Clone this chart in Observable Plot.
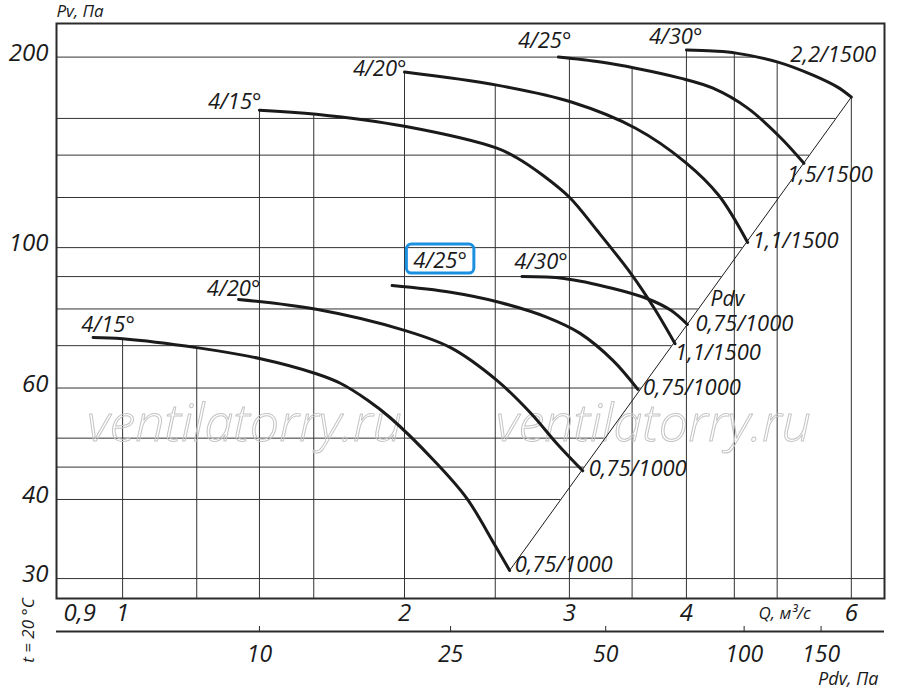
<!DOCTYPE html>
<html>
<head>
<meta charset="utf-8">
<script src="https://cdn.jsdelivr.net/npm/d3@7"></script>
<script src="https://cdn.jsdelivr.net/npm/@observablehq/plot@0.6"></script>
<style>
  body { margin: 0; background: #fff; }
  #chart svg { display: block; }
</style>
</head>
<body>
<div id="chart"></div>
<script>
// blade angle / motor labels
const angles = ["4/15°", "4/20°", "4/25°", "4/30°"];
const lowerEnds = ["0,75/1000", "0,75/1000", "0,75/1000", "0,75/1000"];
const upperEnds = ["1,1/1500", "1,1/1500", "1,5/1500", "2,2/1500"];

// curves: [Q, m3/s ; Pv, Pa]
const lower15 = [[0.93, 72.1], [1.0, 71.8], [1.2, 69.5], [1.4, 66.8], [1.61, 63.2], [1.71, 61.0], [1.83, 57.3], [1.93, 53.9], [2.15, 46.1], [2.33, 40.2], [2.5, 33.8], [2.59, 30.9]];
const lower20 = [[1.33, 82.8], [1.61, 79.9], [2.0, 74.0], [2.24, 69.5], [2.51, 61.7], [2.73, 54.7], [2.91, 49.0], [3.10, 44.4]];
const lower25 = [[1.94, 87.1], [2.24, 85.0], [2.53, 81.9], [2.84, 77.6], [3.08, 73.2], [3.34, 66.3], [3.55, 59.7]];
const lower30 = [[2.67, 90.0], [2.96, 89.4], [3.34, 86.2], [3.63, 83.1], [3.85, 79.6], [4.01, 75.6]];
const upper15 = [[1.4, 164.9], [1.61, 162.5], [2.0, 155.5], [2.51, 143.6], [2.63, 138.9], [2.81, 130.1], [3.0, 120.1], [3.21, 106.5], [3.49, 91.0], [3.69, 80.5], [3.89, 70.5]];
const upper20 = [[2.0, 189.4], [2.51, 180.6], [3.02, 169.7], [3.53, 154.4], [3.99, 136.4], [4.33, 121.0], [4.65, 101.9]];
const upper25 = [[2.92, 200], [3.24, 196.4], [3.53, 192.1], [3.94, 185.3], [4.27, 178.6], [4.65, 166.1], [5.04, 149.3], [5.34, 135.9]];
const upper30 = [[4.0, 205.2], [4.27, 204.4], [4.52, 202.9], [5.01, 196.4], [5.46, 187.3], [5.80, 179.3], [6.0, 172.9]];
const pdvLine = [[2.59, 30.9], [6.0, 172.9]];

// grid and ticks
const gridQ = [1, 1.2, 1.4, 1.6, 2, 2.5, 3, 3.5, 4, 4.5, 5, 6];
const gridP = [30, 40, 45, 50, 60, 70, 80, 90, 100, 120, 140, 160, 200];
const tickQ = [0.9, 1, 2, 3, 4, 6];
const tickP = [30, 40, 60, 100, 200];
const pdvTicks = [10, 25, 50, 100, 150];
const pdvTickQ = [1.40, 2.24, 3.28, 4.61, 5.57];

const xDomain = [0.85, 6.51];
const yDomain = [27.9, 226];

const lower = [lower15, lower20, lower25, lower30];
const upper = [upper15, upper20, upper25, upper30];

const rows = [];
lower.forEach((pts, i) => pts.forEach(([q, p]) => rows.push({q, p, id: "l" + i})));
upper.forEach((pts, i) => pts.forEach(([q, p]) => rows.push({q, p, id: "u" + i})));

// log-log interpolation along a polyline
function pAt(pts, q) {
  for (let i = 1; i < pts.length; i++) {
    const [q0, p0] = pts[i - 1], [q1, p1] = pts[i];
    if (q >= q0 && q <= q1) {
      const t = Math.log(q / q0) / Math.log(q1 / q0);
      return Math.exp(Math.log(p0) + t * Math.log(p1 / p0));
    }
  }
  return null;
}
function qAt(pts, p) {
  for (let i = pts.length - 1; i > 0; i--) {
    const [q0, p0] = pts[i - 1], [q1, p1] = pts[i];
    if ((p - p0) * (p - p1) <= 0) {
      const t = Math.log(p / p0) / Math.log(p1 / p0);
      return Math.exp(Math.log(q0) + t * Math.log(q1 / q0));
    }
  }
  return null;
}
// vertical grid stops at the top curve, horizontal grid at the Pdv line
const topAt = q => d3.max([...lower, ...upper], pts => pAt(pts, q)) ?? yDomain[1];
function rightAt(p) {
  if (p < pdvLine[0][1]) return xDomain[1];
  if (p <= pdvLine[1][1]) return qAt(pdvLine, p);
  return qAt(upper30, p) ?? xDomain[1];
}

const pdvLabel = new Map(pdvTickQ.map((q, i) => [q, pdvTicks[i]]));
const it = {fontStyle: "italic", fill: "#1a1a1a"};
const mid = {textAnchor: "middle", lineAnchor: "middle"};

// label offsets (px) relative to curve start / end
const upperStartOff = [[2, -8], [2, -3], [13, -16], [16, -13]];
const lowerStartOff = [[15, -13], [-5, -11], [48, -25], [19, -15]];
const lowerEndOff = [[5, -5], [6, -2], [5, -1], [8, -1]];
const upperEndOff = [[0, 9], [5, -1], [-17, 12], [-61, -42]];

const labelMarks = [];
angles.forEach((a, i) => {
  labelMarks.push(Plot.text([upper[i][0]], {x: d => d[0], y: d => d[1], text: () => a, textAnchor: "end",
    dx: upperStartOff[i][0], dy: upperStartOff[i][1], fontSize: 22, ...it}));
  labelMarks.push(Plot.text([lower[i][0]], {x: d => d[0], y: d => d[1], text: () => a, textAnchor: "middle",
    dx: lowerStartOff[i][0], dy: lowerStartOff[i][1], fontSize: 22, ...it,
    ariaDescription: i === 2 ? "highlight" : "angle"}));
  labelMarks.push(Plot.text([lower[i][lower[i].length - 1]], {x: d => d[0], y: d => d[1], text: () => lowerEnds[i], textAnchor: "start",
    dx: lowerEndOff[i][0], dy: lowerEndOff[i][1], fontSize: 22, ...it}));
  labelMarks.push(Plot.text([upper[i][upper[i].length - 1]], {x: d => d[0], y: d => d[1], text: () => upperEnds[i], textAnchor: "start",
    dx: upperEndOff[i][0], dy: upperEndOff[i][1], fontSize: 22, ...it}));
});

const watermark = dx => Plot.text(["ventilatorry.ru"], {frameAnchor: "middle", ...mid, text: d => d, dx, dy: 113,
  fontSize: 52, fontStyle: "italic", fontWeight: 300, fill: "none", stroke: "#c4c4c4", strokeWidth: 1});

const chart = Plot.plot({
  width: 900,
  height: 690,
  marginLeft: 56,
  marginRight: 16,
  marginTop: 23,
  marginBottom: 92,
  style: {fontFamily: "'Open Sans', sans-serif", background: "#fff", color: "#1a1a1a"},
  x: {type: "log", domain: xDomain, label: null},
  y: {type: "log", domain: yDomain, label: null},
  marks: [
    Plot.ruleX(gridQ, {x: d => d, y1: () => yDomain[0], y2: topAt, stroke: "#333", strokeWidth: 1}),
    Plot.ruleY(gridP, {y: d => d, x1: () => xDomain[0], x2: rightAt, stroke: "#333", strokeWidth: 1}),
    watermark(-226),
    watermark(183),
    Plot.line(pdvLine, {x: d => d[0], y: d => d[1], stroke: "#1a1a1a", strokeWidth: 1}),
    Plot.line(rows, {x: "q", y: "p", z: "id", curve: "catmull-rom", stroke: "#1a1a1a", strokeWidth: 3}),
    ...labelMarks,
    Plot.text(["Pdv"], {x: () => lower30[lower30.length - 1][0], y: () => lower30[lower30.length - 1][1],
      text: d => d, dx: 40, dy: -25, fontSize: 21, ...it}),
    Plot.frame({stroke: "#2a2a2a", strokeWidth: 2}),
    Plot.ruleY([yDomain[0]], {dy: 33, stroke: "#2a2a2a", strokeWidth: 2}),
    Plot.axisY(tickP, {anchor: "left", tickSize: 0, tickPadding: 8, dy: -4, fontSize: 24, ...it,
      tickFormat: d => String(d), label: null}),
    Plot.axisX(tickQ, {anchor: "bottom", tickSize: 0, tickPadding: 5, fontSize: 24, ...it,
      tickFormat: d => String(d).replace(".", ","), label: null}),
    Plot.axisX(pdvTickQ, {anchor: "bottom", tickSize: 5, tickPadding: 14, dy: 28, fontSize: 23, ...it,
      stroke: "#2a2a2a", tickFormat: d => pdvLabel.get(d), label: null}),
    Plot.text(["Pv, Па"], {frameAnchor: "top-left", text: d => d, textAnchor: "start", lineAnchor: "middle", dy: -12, fontSize: 17, ...it}),
    Plot.text(["Q, м³/с"], {frameAnchor: "bottom-right", text: d => d, textAnchor: "start", lineAnchor: "middle", dx: -126, dy: 15, fontSize: 17, ...it}),
    Plot.text(["Pdv, Па"], {frameAnchor: "bottom-right", text: d => d, textAnchor: "end", lineAnchor: "middle", dx: -6, dy: 81, fontSize: 18, ...it}),
    Plot.text(["t = 20 °C"], {frameAnchor: "bottom-left", ...mid, text: d => d, rotate: -90, dx: -28, dy: 32, fontSize: 17, ...it})
  ]
});

document.getElementById("chart").append(chart);

// blue rounded box round the highlighted label
const hl = chart.querySelector('g[aria-description="highlight"] text');
if (hl) {
  const b = hl.getBBox();
  const r = document.createElementNS("http://www.w3.org/2000/svg", "rect");
  r.setAttribute("x", b.x - 7);
  r.setAttribute("y", b.y + 0.5);
  r.setAttribute("width", b.width + 14);
  r.setAttribute("height", b.height - 1);
  r.setAttribute("rx", 5);
  r.setAttribute("fill", "none");
  r.setAttribute("stroke", "#1b8fe0");
  r.setAttribute("stroke-width", 3);
  if (hl.getAttribute("transform")) r.setAttribute("transform", hl.getAttribute("transform"));
  hl.parentNode.appendChild(r);
}
</script>
</body>
</html>
